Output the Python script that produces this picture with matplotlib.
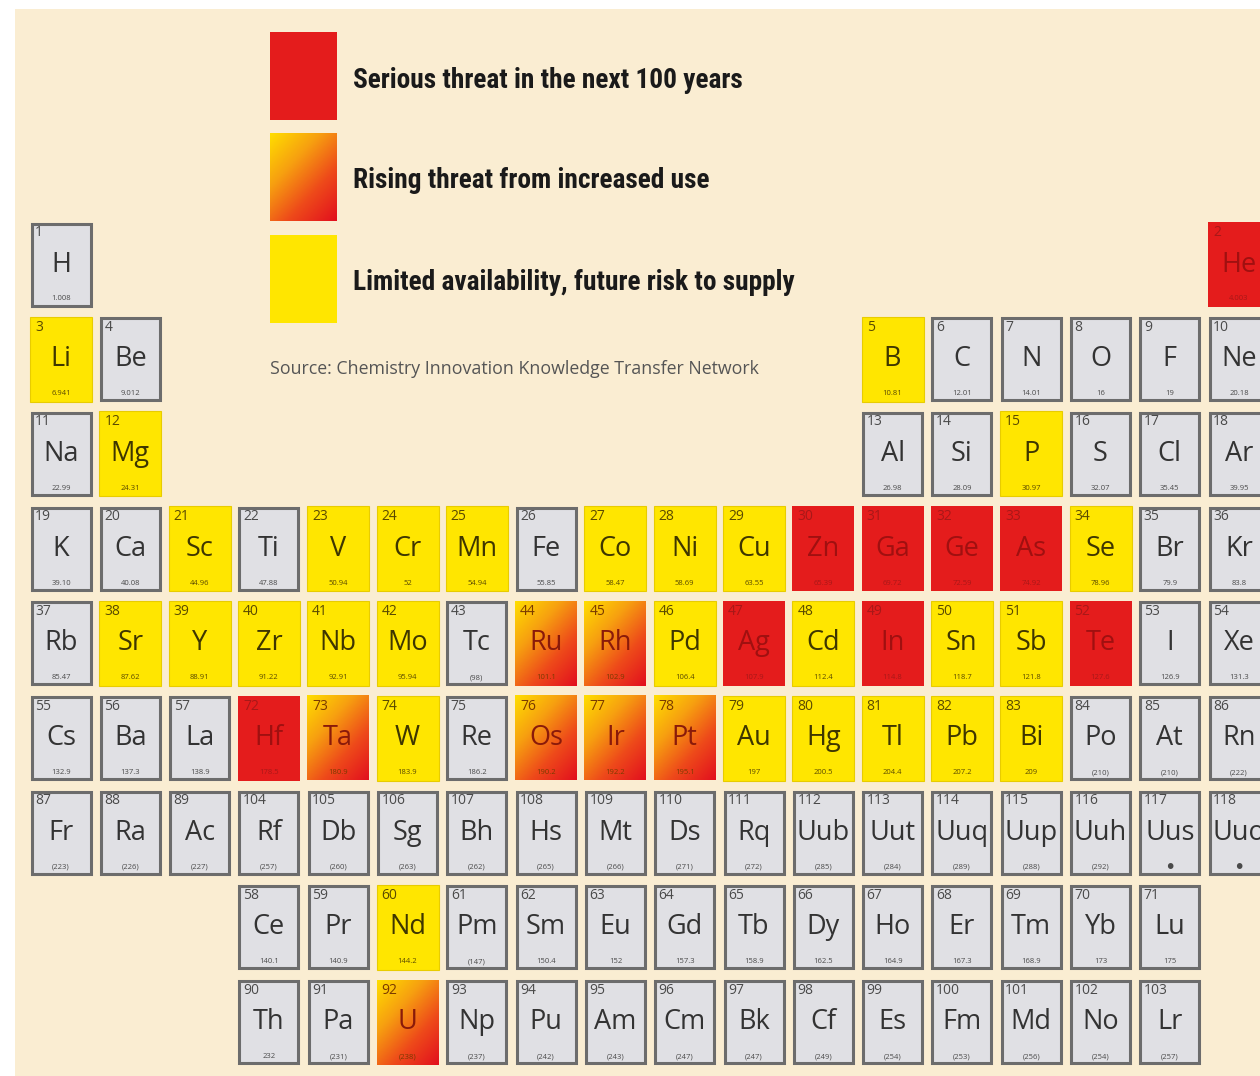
import numpy as np
import matplotlib.pyplot as plt
from matplotlib.patches import Rectangle
from matplotlib.colors import LinearSegmentedColormap
from matplotlib import font_manager

# element data: symbol, number, weight label, column, row, threat class
symbols = ["H", "He",
           "Li", "Be", "B", "C", "N", "O", "F", "Ne",
           "Na", "Mg", "Al", "Si", "P", "S", "Cl", "Ar",
           "K", "Ca", "Sc", "Ti", "V", "Cr", "Mn", "Fe", "Co", "Ni", "Cu", "Zn", "Ga", "Ge", "As", "Se", "Br", "Kr",
           "Rb", "Sr", "Y", "Zr", "Nb", "Mo", "Tc", "Ru", "Rh", "Pd", "Ag", "Cd", "In", "Sn", "Sb", "Te", "I", "Xe",
           "Cs", "Ba", "La", "Hf", "Ta", "W", "Re", "Os", "Ir", "Pt", "Au", "Hg", "Tl", "Pb", "Bi", "Po", "At", "Rn",
           "Fr", "Ra", "Ac", "Rf", "Db", "Sg", "Bh", "Hs", "Mt", "Ds", "Rq", "Uub", "Uut", "Uuq", "Uup", "Uuh", "Uus", "Uuo",
           "Ce", "Pr", "Nd", "Pm", "Sm", "Eu", "Gd", "Tb", "Dy", "Ho", "Er", "Tm", "Yb", "Lu",
           "Th", "Pa", "U", "Np", "Pu", "Am", "Cm", "Bk", "Cf", "Es", "Fm", "Md", "No", "Lr"]
numbers = [1, 2,
           3, 4, 5, 6, 7, 8, 9, 10,
           11, 12, 13, 14, 15, 16, 17, 18,
           19, 20, 21, 22, 23, 24, 25, 26, 27, 28, 29, 30, 31, 32, 33, 34, 35, 36,
           37, 38, 39, 40, 41, 42, 43, 44, 45, 46, 47, 48, 49, 50, 51, 52, 53, 54,
           55, 56, 57, 72, 73, 74, 75, 76, 77, 78, 79, 80, 81, 82, 83, 84, 85, 86,
           87, 88, 89, 104, 105, 106, 107, 108, 109, 110, 111, 112, 113, 114, 115, 116, 117, 118,
           58, 59, 60, 61, 62, 63, 64, 65, 66, 67, 68, 69, 70, 71,
           90, 91, 92, 93, 94, 95, 96, 97, 98, 99, 100, 101, 102, 103]
weights = ["1.008", "4.003",
           "6.941", "9.012", "10.81", "12.01", "14.01", "16", "19", "20.18",
           "22.99", "24.31", "26.98", "28.09", "30.97", "32.07", "35.45", "39.95",
           "39.10", "40.08", "44.96", "47.88", "50.94", "52", "54.94", "55.85", "58.47", "58.69", "63.55",
           "65.39", "69.72", "72.59", "74.92", "78.96", "79.9", "83.8",
           "85.47", "87.62", "88.91", "91.22", "92.91", "95.94", "(98)", "101.1", "102.9", "106.4", "107.9",
           "112.4", "114.8", "118.7", "121.8", "127.6", "126.9", "131.3",
           "132.9", "137.3", "138.9", "178.5", "180.9", "183.9", "186.2", "190.2", "192.2", "195.1", "197",
           "200.5", "204.4", "207.2", "209", "(210)", "(210)", "(222)",
           "(223)", "(226)", "(227)", "(257)", "(260)", "(263)", "(262)", "(265)", "(266)", "(271)", "(272)",
           "(285)", "(284)", "(289)", "(288)", "(292)", "\u2022", "\u2022",
           "140.1", "140.9", "144.2", "(147)", "150.4", "152", "157.3", "158.9", "162.5", "164.9", "167.3",
           "168.9", "173", "175",
           "232", "(231)", "(238)", "(237)", "(242)", "(243)", "(247)", "(247)", "(249)", "(254)", "(253)",
           "(256)", "(254)", "(257)"]
columns = [1, 18,
           1, 2, 13, 14, 15, 16, 17, 18,
           1, 2, 13, 14, 15, 16, 17, 18] + list(range(1, 19)) * 4 + list(range(4, 18)) * 2
rows = [1, 1] + [2] * 8 + [3] * 8 + [4] * 18 + [5] * 18 + [6] * 18 + [7] * 18 + [8] * 14 + [9] * 14

serious = ["He", "Zn", "Ga", "Ge", "As", "Ag", "In", "Te", "Hf"]
rising = ["Ru", "Rh", "Os", "Ir", "Pt", "Ta", "U"]
limited = ["Li", "Mg", "B", "P", "Sc", "V", "Cr", "Mn", "Co", "Ni", "Cu", "Se",
           "Sr", "Y", "Zr", "Nb", "Mo", "Pd", "Cd", "Sn", "Sb",
           "W", "Au", "Hg", "Tl", "Pb", "Bi", "Nd"]

legend_labels = ["Serious threat in the next 100 years",
                 "Rising threat from increased use",
                 "Limited availability, future risk to supply"]
source = "Source: Chemistry Innovation Knowledge Transfer Network"

RED = "#e41c1c"
YELLOW = "#ffe600"
GREY = "#e0e0e4"
EDGE = "#6c6c6c"
BG = "#faedd2"
grad_cmap = LinearSegmentedColormap.from_list("threat", ["#ffdd00", "#f7a010", "#ee4a1a", "#e2101e"])
g = np.linspace(0, 1, 60)
grad = (g[None, :] * 0.45 + g[:, None] * 0.55)

# layout (pixels)
X0, DX, CW = 30, 69.3, 62
Y0, DY, CH = 222, 94.7, 85

fig = plt.figure(figsize=(12.6, 10.76), dpi=100)
fig.patch.set_facecolor("white")
ax = fig.add_axes([0, 0, 1, 1])
ax.set_xlim(0, 1260)
ax.set_ylim(1076, 0)
ax.axis("off")
ax.add_patch(Rectangle((15, 9), 1245, 1067, facecolor=BG, edgecolor="none", zorder=0))

sym_font = ["Open Sans", "DejaVu Sans"]


def draw_gradient(x, y, w, h):
    ax.imshow(grad, cmap=grad_cmap, extent=(x, x + w, y + h, y), aspect="auto",
              interpolation="bilinear", zorder=2)


for sym, num, wt, c, r in zip(symbols, numbers, weights, columns, rows):
    x = X0 + (c - 1) * DX
    y = Y0 + (r - 1) * DY
    if sym in serious:
        ax.add_patch(Rectangle((x, y), CW, CH, facecolor=RED, edgecolor="none", zorder=2))
        tc, nc = "#a01010", "#a81818"
    elif sym in rising:
        draw_gradient(x, y, CW, CH)
        tc, nc = "#8a1a0a", "#7a3a00"
    elif sym in limited:
        ax.add_patch(Rectangle((x, y), CW, CH, facecolor=YELLOW, edgecolor="#e8cc00", lw=0.8, zorder=2))
        tc, nc = "#3e3600", "#5a4a00"
    else:
        ax.add_patch(Rectangle((x + 1.5, y + 1.5), CW - 3, CH - 3, facecolor=GREY, edgecolor=EDGE,
                               lw=2.2, zorder=2))
        tc, nc = "#333333", "#4a4a4a"
    ax.text(x + 5, y + 3, str(num), fontsize=10, color=nc, family=sym_font, va="top", ha="left",
            zorder=3, clip_on=True)
    ax.text(x + CW / 2, y + CH * 0.5, sym, fontsize=19.5, color=tc, family=sym_font, va="center",
            ha="center", zorder=3, clip_on=True)
    ax.text(x + CW / 2, y + CH - 8, wt, fontsize=14 if wt == "\u2022" else 5.5, color=nc,
            family=["DejaVu Sans"] if wt == "\u2022" else sym_font, va="center", ha="center",
            zorder=3, clip_on=True)

# legend: pick a narrow bold face if one is installed
names = {f.name for f in font_manager.fontManager.ttflist}
narrow = [n for n in ["Roboto Condensed", "Liberation Sans Narrow", "Open Sans Condensed"] if n in names]
if narrow:
    leg_font, leg_size = [narrow[0], "DejaVu Sans"], 19.7
else:
    leg_font, leg_size = ["DejaVu Sans"], 14

box_y = [32, 133, 235]
for i, (lab, by) in enumerate(zip(legend_labels, box_y)):
    if i == 0:
        ax.add_patch(Rectangle((270, by), 67, 88, facecolor=RED, edgecolor="none", zorder=2))
    elif i == 1:
        draw_gradient(270, by, 67, 88)
    else:
        ax.add_patch(Rectangle((270, by), 67, 88, facecolor=YELLOW, edgecolor="none", zorder=2))
    ax.text(353, by + 48, lab, fontsize=leg_size, fontweight="black", family=leg_font, color="#1a1a1a",
            va="center", ha="left", zorder=3)

ax.text(270, 369, source, fontsize=12.8, family=sym_font, color="#555555", va="center", ha="left",
        zorder=3)

fig.savefig("out.png", dpi=100, facecolor=fig.get_facecolor())
